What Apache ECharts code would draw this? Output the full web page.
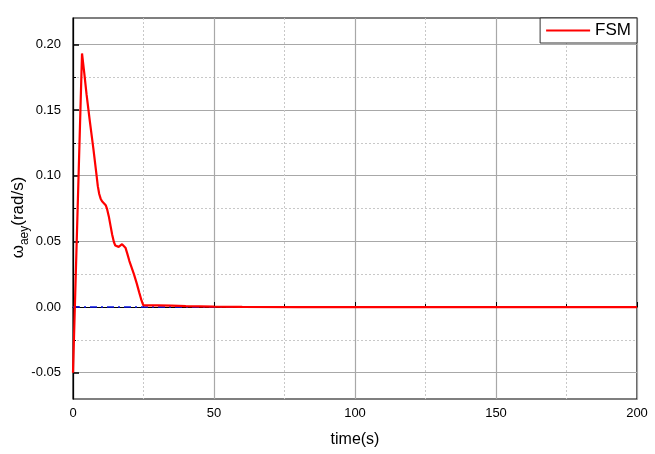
<!DOCTYPE html>
<html><head><meta charset="utf-8">
<script src="https://cdn.jsdelivr.net/npm/echarts@6/dist/echarts.min.js"></script>
<style>html,body{margin:0;padding:0;background:#fff}#c{width:655px;height:454px}</style>
</head><body><div id="c"></div>
<script>
const timeVals = [0, 3.2, 4.0, 4.8, 6.0, 7.2, 8.2, 8.8, 9.3, 9.8, 10.3, 11.0, 11.6, 12.1, 12.7, 13.3, 13.9, 14.5, 15.0, 15.6, 16.2, 16.8, 17.4, 18.0, 18.6, 19.2, 20.0, 20.8, 21.6, 22.6, 23.5, 24.3, 24.9, 26, 30, 35, 40, 50, 60, 80, 200];
const fsmVals = [-0.05, 0.193, 0.178, 0.162, 0.141, 0.121, 0.103, 0.092, 0.086, 0.0825, 0.0805, 0.079, 0.0775, 0.0745, 0.069, 0.062, 0.055, 0.0495, 0.0468, 0.0455, 0.0458, 0.0472, 0.0478, 0.0472, 0.0452, 0.041, 0.035, 0.030, 0.025, 0.018, 0.011, 0.005, 0.0015, 0.0012, 0.0013, 0.001, 0.0007, 0.0003, 0.0001, 0, 0];
const refTime = [0, 200];
const refVals = [0, 0];
const seriesName = 'FSM';
const xTitle = 'time(s)';
const yMin = -0.07, yMax = 0.22;
const yTickMin = -0.05, yTickMax = 0.20;

const font = 'Liberation Sans, Arial, sans-serif';
const W = 655, H = 454;
const gL = 73, gR = 18, gT = 18, gB = 55;
const plotH = H - gT - gB;
const pix = v => gT + (yMax - v) / (yMax - yMin) * plotH;
const g2Top = pix(yTickMax), g2Bottom = H - pix(yTickMin);

const chart = echarts.init(document.getElementById('c'), null, {renderer: 'canvas'});
chart.setOption({
  animation: false,
  backgroundColor: '#fff',
  grid: [
    {left: gL, right: gR, top: gT, bottom: gB, show: true, borderColor: '#000', borderWidth: 1.2, z: 0, containLabel: false, outerBoundsMode: 'none'},
    {left: gL, right: gR, top: g2Top, bottom: g2Bottom, show: false, containLabel: false, outerBoundsMode: 'none'}
  ],
  legend: {
    right: gR, top: gT, orient: 'horizontal',
    data: [{name: seriesName, icon: 'rect'}],
    itemWidth: 44, itemHeight: 2, itemGap: 6,
    backgroundColor: '#fff', borderColor: '#333', borderWidth: 1, borderRadius: 0,
    padding: [4, 6, 4, 6],
    textStyle: {fontFamily: font, fontSize: 17, color: '#000'}
  },
  xAxis: [{
    gridIndex: 0, type: 'value', min: 0, max: 200, interval: 50,
    name: xTitle, nameLocation: 'middle', nameGap: 33,
    nameTextStyle: {fontFamily: font, fontSize: 16, color: '#000'},
    axisLine: {show: true, lineStyle: {color: '#000', width: 1.2}},
    axisTick: {show: true, inside: true, length: 5, lineStyle: {color: '#000'}},
    minorTick: {show: true, splitNumber: 2, length: 3, lineStyle: {color: '#000'}},
    axisLabel: {fontFamily: font, fontSize: 13, color: '#000', margin: 8},
    splitLine: {show: true, lineStyle: {color: '#a8a8a8', width: 1.2}},
    minorSplitLine: {show: true, lineStyle: {color: '#c8c8c8', type: [2, 2], width: 1}}
  }, {
    gridIndex: 1, type: 'value', min: 0, max: 200, show: false
  }],
  yAxis: [{
    gridIndex: 0, type: 'value', min: yMin, max: yMax, position: 'left',
    axisLine: {show: true, lineStyle: {color: '#000', width: 1.2}},
    axisTick: {show: false}, axisLabel: {show: false}, splitLine: {show: false}
  }, {
    gridIndex: 1, type: 'value', min: yTickMin, max: yTickMax, interval: 0.05, position: 'left', offset: 0,
    axisLine: {show: false},
    axisTick: {show: true, inside: true, length: 6, lineStyle: {color: '#000', width: 1.5}},
    minorTick: {show: true, splitNumber: 2, length: 3, lineStyle: {color: '#000'}},
    axisLabel: {fontFamily: font, fontSize: 13, color: '#000', margin: 12,
      formatter: v => v.toFixed(2)},
    splitLine: {show: true, lineStyle: {color: '#a8a8a8', width: 1.2}},
    minorSplitLine: {show: true, lineStyle: {color: '#c8c8c8', type: [2, 2], width: 1}},
    name: '{w|ω}{s|aey}{w|(rad/s)}', nameLocation: 'middle', nameGap: 46, nameRotate: 90,
    nameMoveOverlap: false,
    nameTextStyle: {padding: [0, 18, 0, 0], rich: {
      w: {fontFamily: font, fontSize: 17, color: '#000', verticalAlign: 'bottom'},
      s: {fontFamily: font, fontSize: 12, color: '#000', verticalAlign: 'bottom', padding: [0, 0, -4, 0]}
    }}
  }],
  series: [
    {name: 'ref', type: 'line', xAxisIndex: 0, yAxisIndex: 0, data: refTime.map((t, i) => [t, refVals[i]]), showSymbol: false,
     lineStyle: {color: '#0a14e6', width: 1.6, type: [7, 4, 2, 4]}, z: 2, silent: true},
    {name: seriesName, type: 'line', xAxisIndex: 0, yAxisIndex: 0, data: timeVals.map((t, i) => [t, fsmVals[i]]), showSymbol: false,
     lineStyle: {color: '#ff0000', width: 2.2}, itemStyle: {color: '#ff0000'}, z: 3}
  ]
});
</script></body></html>
